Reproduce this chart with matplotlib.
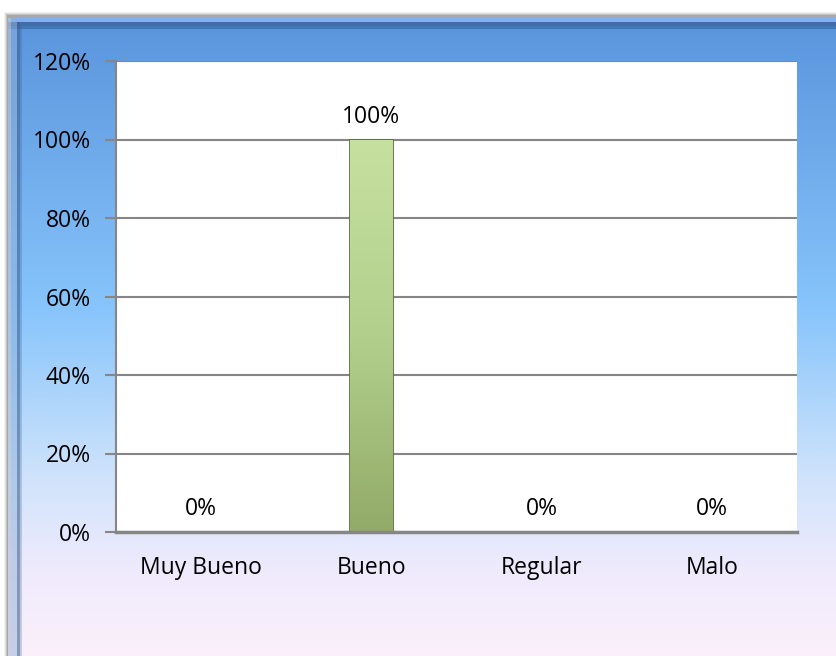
import numpy as np
import matplotlib.pyplot as plt
from matplotlib.patches import Rectangle
from matplotlib.colors import LinearSegmentedColormap

categories = ["Muy Bueno", "Bueno", "Regular", "Malo"]
values = [0, 100, 0, 0]
yticks = [0, 20, 40, 60, 80, 100, 120]

plt.rcParams['font.family'] = ['Open Sans', 'DejaVu Sans']

fig = plt.figure(figsize=(8.37, 6.56), dpi=100)
W, H = 837, 656

# background: frame + gradient
bg = fig.add_axes([0, 0, 1, 1])
bg.set_xlim(0, W)
bg.set_ylim(H, 0)
bg.axis('off')
bg.add_patch(Rectangle((0, 0), W, H, color='white', zorder=0))
# soft shadow
for i, a in enumerate([0.10, 0.18, 0.28, 0.4]):
    bg.add_patch(Rectangle((4 + i, 12 + i), W, H, color='#808080', alpha=a, lw=0, zorder=1))
grad_cmap = LinearSegmentedColormap.from_list(
    'bg', [(0.0, '#5a94dc'), (0.45, '#86c4fb'), (0.72, '#cfe3fb'), (0.86, '#eeeafd'), (1.0, '#fbf0fa')])
g = np.linspace(0, 1, 256).reshape(-1, 1)
bg.imshow(g, cmap=grad_cmap, extent=[8, W, H, 18], aspect='auto', zorder=2)
# bevel edges
bg.add_patch(Rectangle((8, 18), W, 4, color='#7fb2ea', lw=0, zorder=3))
bg.add_patch(Rectangle((8, 22), W, 4, color='#3f6fa8', lw=0, zorder=3))
bg.add_patch(Rectangle((8, 26), W, 3, color='#2f5a90', alpha=0.5, lw=0, zorder=3))
bg.add_patch(Rectangle((8, 18), 3, H, color='#b8c4d4', alpha=0.7, lw=0, zorder=3))
bg.add_patch(Rectangle((11, 18), 6, H, color='#8fb0d8', alpha=0.5, lw=0, zorder=3))
bg.add_patch(Rectangle((17, 22), 3, H, color='#3a5f8e', alpha=0.6, lw=0, zorder=3))
bg.add_patch(Rectangle((20, 26), 2, H, color='#2f5a90', alpha=0.25, lw=0, zorder=3))

ax = fig.add_axes([116 / W, 1 - 532 / H, (797 - 116) / W, (532 - 61) / H])
ax.set_facecolor('white')
x = np.arange(len(categories))
bars = ax.bar(x, values, width=0.25, color='#b0d08a', edgecolor='#5f7040', linewidth=1.3, zorder=3)

bar_cmap = LinearSegmentedColormap.from_list('bar', ['#c6e0a0', '#b2d08c', '#93ab68'])
for b in bars:
    if b.get_height() > 0:
        im = ax.imshow(np.linspace(0, 1, 128).reshape(-1, 1), cmap=bar_cmap,
                       extent=[b.get_x(), b.get_x() + b.get_width(), 0, b.get_height()],
                       aspect='auto', zorder=3.5)
        im.set_clip_path(b)

for xi, v in zip(x, values):
    ax.text(xi, v + 2.8, f"{v}%", ha='center', va='bottom', fontsize=16.5, color='black', zorder=5)

ax.set_xlim(-0.5, len(categories) - 0.5)
ax.set_ylim(0, 120)
ax.set_yticks(yticks)
ax.set_yticklabels([f"{t}%" for t in yticks], fontsize=16.5)
ax.set_xticks(x)
ax.set_xticklabels(categories, fontsize=16.5)
ax.tick_params(axis='x', length=0, pad=17)
ax.tick_params(axis='y', length=8, width=1.5, color='#868686', pad=10)
ax.yaxis.grid(True, color='#868686', linewidth=1.5, zorder=1)
ax.set_axisbelow(True)
for s in ['top', 'right']:
    ax.spines[s].set_visible(False)
ax.spines['left'].set_color('#868686')
ax.spines['left'].set_linewidth(1.5)
ax.spines['bottom'].set_color('#868686')
ax.spines['bottom'].set_linewidth(2.5)
ax.spines['bottom'].set_zorder(4)

plt.savefig('out.png', dpi=100)
plt.close(fig)
